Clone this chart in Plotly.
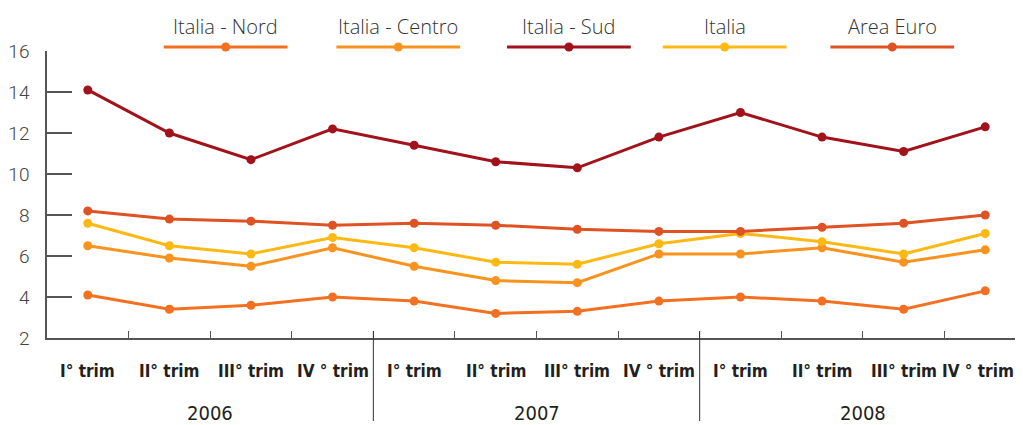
import plotly.graph_objects as go

# ---------------- data ----------------
quarters = ["I° trim", "II° trim", "III° trim", "IV ° trim"]
years = ["2006", "2007", "2008"]
tick_labels = quarters * len(years)

nord = [4.1, 3.4, 3.6, 4.0, 3.8, 3.2, 3.3, 3.8, 4.0, 3.8, 3.4, 4.3]
centro = [6.5, 5.9, 5.5, 6.4, 5.5, 4.8, 4.7, 6.1, 6.1, 6.4, 5.7, 6.3]
sud = [14.1, 12.0, 10.7, 12.2, 11.4, 10.6, 10.3, 11.8, 13.0, 11.8, 11.1, 12.3]
italia = [7.6, 6.5, 6.1, 6.9, 6.4, 5.7, 5.6, 6.6, 7.1, 6.7, 6.1, 7.1]
euro = [8.2, 7.8, 7.7, 7.5, 7.6, 7.5, 7.3, 7.2, 7.2, 7.4, 7.6, 8.0]

series_names = ["Italia - Nord", "Italia - Centro", "Italia - Sud", "Italia", "Area Euro"]
series_values = [nord, centro, sud, italia, euro]
series_colors = ["#F37021", "#F7931E", "#A1121A", "#FDB913", "#DE5224"]

y_ticks = [2, 4, 6, 8, 10, 12, 14, 16]

# ---------------- figure ----------------
OFF = 8  # page body margin in the html page
W, H = 1023 - OFF, 425 - OFF
ML, MR, MT, MB = 45 - OFF, 0, 51 - OFF, H - (338 - OFF)
pw = W - ML - MR
ph = H - MT - MB

x_idx = list(range(len(tick_labels)))

fig = go.Figure()
for name, vals, col in zip(series_names, series_values, series_colors):
    fig.add_trace(go.Scatter(
        x=x_idx, y=vals, mode="lines+markers", name=name,
        line=dict(color=col, width=3),
        marker=dict(color=col, size=9),
        showlegend=False, cliponaxis=False,
    ))

axis_col = "#555555"
fig.update_layout(
    width=W, height=H,
    margin=dict(l=ML, r=MR, t=MT, b=MB, pad=0),
    paper_bgcolor="white", plot_bgcolor="white",
    xaxis=dict(
        range=[-0.5, 11.5 - 3 / 81.7],
        tickmode="array", tickvals=x_idx, ticktext=tick_labels,
        showticklabels=False,
        ticks="", showgrid=False, zeroline=False,
        showline=True, linecolor=axis_col, linewidth=1.5,
        minor=dict(tickmode="array",
                   tickvals=[i + 0.5 for i in range(len(tick_labels) - 1)],
                   ticks="inside", ticklen=7, tickwidth=1, tickcolor=axis_col,
                   showgrid=False),
    ),
    yaxis=dict(
        range=[2, 16], tickmode="array", tickvals=y_ticks,
        ticks="inside", ticklen=25, tickwidth=1.5, tickcolor=axis_col,
        showgrid=False, zeroline=False,
        showline=True, linecolor=axis_col, linewidth=1.5,
        tickfont=dict(family="Roboto", size=19, color="#444444", weight=300),
        ticklabelstandoff=12,
    ),
)

def py(pix):
    """page pixel y (from top) -> paper y"""
    return (H - MB - (pix - OFF)) / ph

def px(pix):
    return (pix - OFF - ML) / pw

shapes = []
annotations = []

# quarter labels (category labels on the x axis)
for i, lab in enumerate(tick_labels):
    annotations.append(dict(x=i, y=py(371), xref="x", yref="paper",
                            text=lab, showarrow=False, xanchor="center", yanchor="middle",
                            xshift=-7 if i == len(tick_labels) - 1 else 0,
                            font=dict(family="DejaVu Sans Condensed, DejaVu Sans", size=17,
                                      color="#231F20", weight="bold")))

# year dividers and year labels
for b in [3.5, 7.5]:
    shapes.append(dict(type="line", xref="x", yref="paper", x0=b, x1=b,
                       y0=py(331), y1=py(421), line=dict(color="#333333", width=1)))
for i, yr in enumerate(years):
    annotations.append(dict(x=i * 4 + 1.5, y=py(413), xref="x", yref="paper",
                            text=yr, showarrow=False, xanchor="center", yanchor="middle",
                            font=dict(family="DejaVu Sans Condensed, DejaVu Sans", size=20,
                                      color="#231F20")))

# custom legend (text above line with centred dot)
legend_centers = [224, 397, 568, 724, 892]
for name, col, cx in zip(series_names, series_colors, legend_centers):
    shapes.append(dict(type="line", xref="paper", yref="paper",
                       x0=px(cx - 62), x1=px(cx + 62), y0=py(47), y1=py(47),
                       line=dict(color=col, width=3)))
    shapes.append(dict(type="circle", xref="paper", yref="paper",
                       xsizemode="pixel", ysizemode="pixel",
                       xanchor=px(cx), yanchor=py(47),
                       x0=-4.5, x1=4.5, y0=-4.5, y1=4.5,
                       fillcolor=col, line=dict(color=col, width=0)))
    annotations.append(dict(x=px(cx), y=py(26), xref="paper", yref="paper",
                            text=name, showarrow=False, xanchor="center", yanchor="middle",
                            font=dict(family="Open Sans", size=20, color="#333333",
                                      weight=300)))

fig.update_layout(shapes=shapes, annotations=annotations)
fig.write_html("out.html")
